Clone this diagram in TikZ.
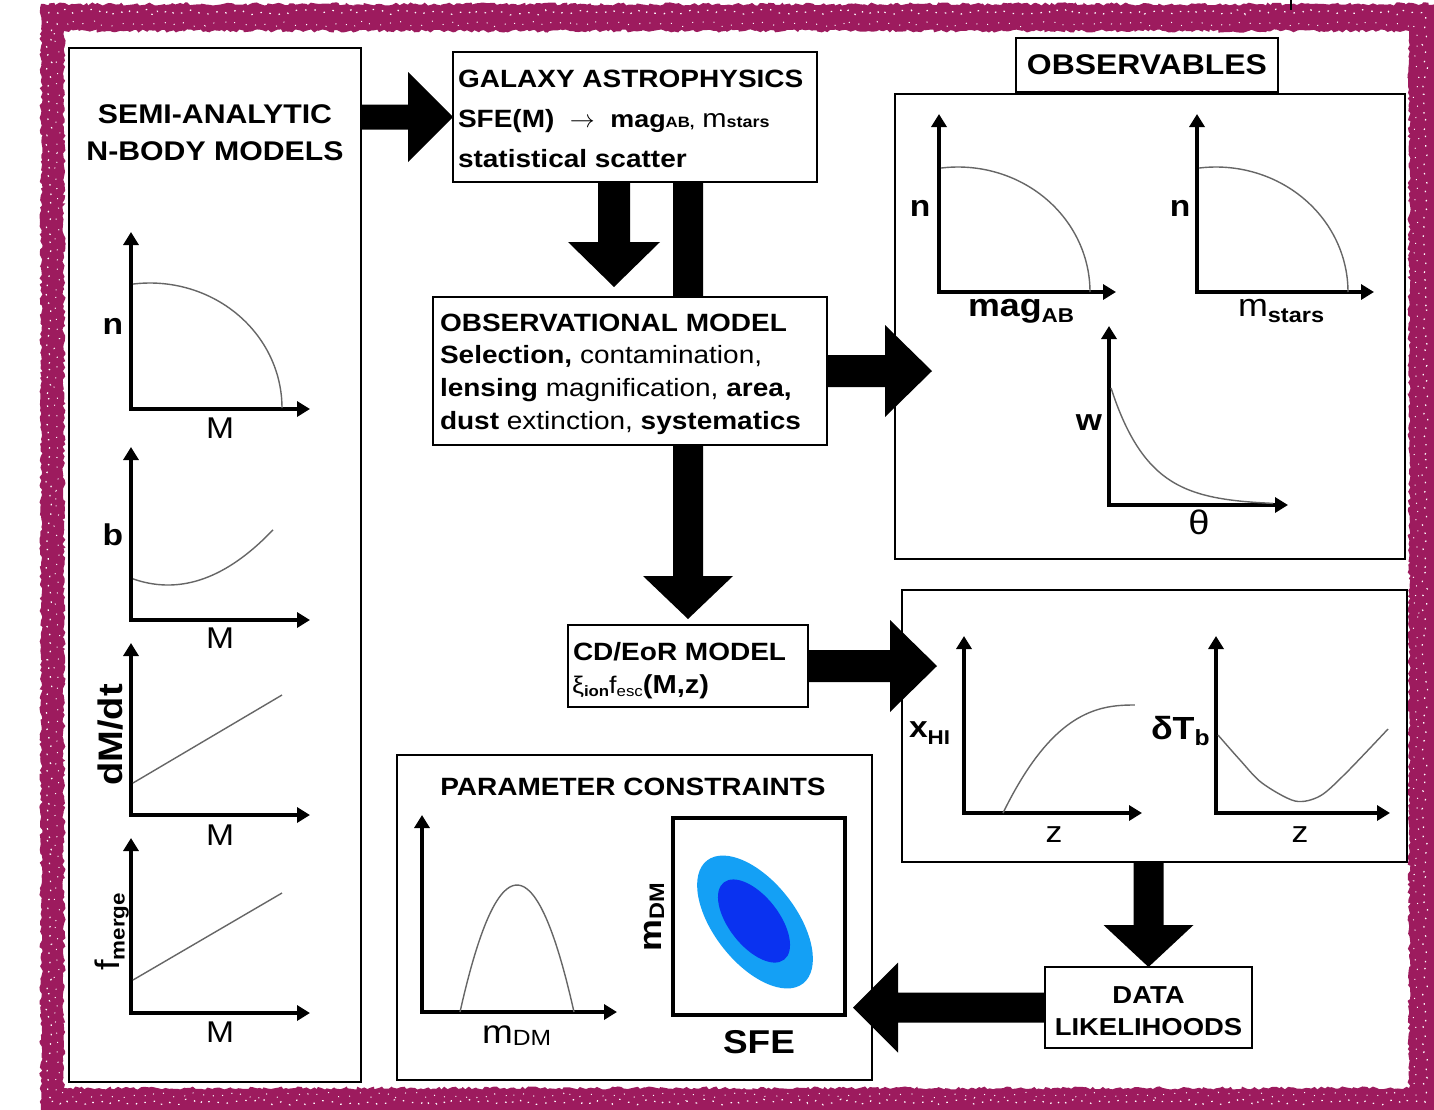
\documentclass[tikz,border=0pt]{standalone}
\usepackage{fontspec}
\setmainfont{Liberation Sans}[FakeStretch=1.12]
\usetikzlibrary{arrows.meta,calc,decorations.pathmorphing}
\pgfdeclarelayer{background}
\pgfsetlayers{background,main}
\definecolor{framepink}{RGB}{157,27,94}
\definecolor{ciouter}{RGB}{20,160,245}
\definecolor{ciinner}{RGB}{10,50,240}
\newcommand\fsz[1]{\fontsize{#1}{#1}\selectfont}
% block arrows: start, tip, shaft half width, head half width, head length
\newcommand\arrR[5]{\fill ($(#1)+(0,-#3)$) -- ($(#2)+(-#5,-#3)$) -- ($(#2)+(-#5,-#4)$) -- (#2) -- ($(#2)+(-#5,#4)$) -- ($(#2)+(-#5,#3)$) -- ($(#1)+(0,#3)$) -- cycle;}
\newcommand\arrL[5]{\fill ($(#1)+(0,-#3)$) -- ($(#2)+(#5,-#3)$) -- ($(#2)+(#5,-#4)$) -- (#2) -- ($(#2)+(#5,#4)$) -- ($(#2)+(#5,#3)$) -- ($(#1)+(0,#3)$) -- cycle;}
\newcommand\arrD[5]{\fill ($(#1)+(-#3,0)$) -- ($(#2)+(-#3,-#5)$) -- ($(#2)+(-#4,-#5)$) -- (#2) -- ($(#2)+(#4,-#5)$) -- ($(#2)+(#3,-#5)$) -- ($(#1)+(#3,0)$) -- cycle;}
\newcommand\ncurve[2]{\draw[crv] plot[smooth,domain=0:97.4,samples=40] ({#1+17+132*cos(\x)},{#2-125*sin(\x)});}
\begin{document}
\begin{tikzpicture}[x=1pt,y=-1pt,
  box/.style={draw, line width=2.8pt, fill=white, inner sep=0pt, outer sep=0pt},
  txt/.style={inner sep=0pt, outer sep=0pt},
  axes/.style={line width=4pt, line join=miter, >={Triangle[length=13pt,width=15pt]}, <->},
  crv/.style={line width=1.4pt, black!60},
  ]
\useasboundingbox (0,0) rectangle (1434,1109);
% ---------- frame ----------
\fill[framepink, even odd rule, decorate, decoration={random steps,segment length=3pt,amplitude=1.6pt}]
  (41,4) rectangle (1436,1112) (64,31) rectangle (1409,1088);
\draw[white, line width=1.2pt, dash pattern=on 1.5pt off 8pt, decorate, decoration={random steps,segment length=5pt,amplitude=3pt}]
  (49,12) rectangle (1425,1102);
\draw[white, line width=1pt, dash pattern=on 1pt off 11pt, decorate, decoration={random steps,segment length=4pt,amplitude=3pt}]
  (57,24) rectangle (1416,1095);
\draw[line width=1.5pt] (1291,0) -- (1291,10);

% ---------- left panel ----------
\node[box, minimum width=292pt, minimum height=1034pt, anchor=north west] (semi) at (69,48) {};
\node[txt, anchor=base, font=\fsz{27}\bfseries] (semit1) at (215,123) {SEMI-ANALYTIC};
\node[txt, anchor=base, font=\fsz{27}\bfseries] (semit2) at (215,160) {N-BODY MODELS};

\draw[axes] (131,232) -- (131,409) -- (310,409);
\ncurve{133}{408}
\node[txt, font=\fsz{30}\bfseries] (p1y) at (113,326) {n};
\node[txt, font=\fsz{30}] (p1x) at (220,428) {M};

\draw[axes] (131,447) -- (131,620) -- (310,620);
\draw[crv] plot[smooth,domain=133:273,samples=30] (\x,{585-0.005*(\x-168)^2});
\node[txt, font=\fsz{30}\bfseries] (p2y) at (113,535) {b};
\node[txt, font=\fsz{30}] (p2x) at (220,638) {M};

\draw[axes] (131,643) -- (131,815) -- (310,815);
\draw[crv] (133,783) -- (282,695);
\node[txt, font=\fsz{34}\bfseries, rotate=90] (p3y) at (111,735) {dM/dt};
\node[txt, font=\fsz{30}] (p3x) at (220,835) {M};

\draw[axes] (131,838) -- (131,1013) -- (310,1013);
\draw[crv] (133,980) -- (282,893);
\node[txt, font=\fsz{34}, rotate=90] (p4y) at (112,932) {f\raisebox{-5pt}{\fsz{20}\bfseries merge}};
\node[txt, font=\fsz{30}] (p4x) at (220,1032) {M};

% ---------- galaxy astrophysics ----------
\node[box, minimum width=364pt, minimum height=130pt, anchor=north west] (galaxy) at (453,52) {};
\node[txt, anchor=base west, font=\fsz{25}\bfseries] (g1) at (458,87) {GALAXY ASTROPHYSICS};
\node[txt, anchor=base west, font=\fsz{25}\bfseries] (g2) at (458,127)
  {SFE(M)\ \ {\fsz{24}$\rightarrow$}\ \ {\fsz{24}mag}{\fsz{15}AB,} {\mdseries\fsz{26}m}{\fsz{16}stars}};
\node[txt, anchor=base west, font=\fsz{25}\bfseries] (g3) at (458,167) {statistical scatter};

% arrow galaxy -> CD/EoR (behind observational model)
\coordinate (a3s) at (galaxy.south -| 688,0);
\coordinate (a3t) at (688,619);

% ---------- observational model ----------
\node[box, minimum width=394pt, minimum height=148pt, anchor=north west] (obs) at (433,297) {};
\node[txt, anchor=base west, font=\fsz{25}\bfseries] (o1) at (440,331) {OBSERVATIONAL MODEL};
\node[txt, anchor=base west, font=\fsz{25}] (o2) at (440,363) {\textbf{Selection,} contamination,};
\node[txt, anchor=base west, font=\fsz{25}] (o3) at (440,396) {\textbf{lensing} magnification, \textbf{area,}};
\node[txt, anchor=base west, font=\fsz{25}] (o4) at (440,429) {\textbf{dust} extinction, \textbf{systematics}};

% ---------- observables ----------
\node[box, minimum width=510pt, minimum height=465pt, anchor=north west] (obsbox) at (895,94) {};
\node[box, minimum width=262pt, minimum height=54pt, font=\fsz{28.5}\bfseries] (obslabel) at (1147,65) {OBSERVABLES};

\draw[axes] (939,114) -- (939,292) -- (1116,292);
\ncurve{941}{292}
\node[txt, font=\fsz{30}\bfseries] (oay) at (920,208) {n};
\node[txt, anchor=base west, font=\fsz{32}\bfseries] (oax) at (968,316) {mag\raisebox{-6pt}{\fsz{20}AB}};

\draw[axes] (1197,114) -- (1197,292) -- (1374,292);
\ncurve{1199}{292}
\node[txt, font=\fsz{30}\bfseries] (oby) at (1180,208) {n};
\node[txt, anchor=base west, font=\fsz{32}] (obx) at (1238,316) {m\raisebox{-6pt}{\fsz{21}\bfseries stars}};

\draw[axes] (1109,326) -- (1109,505) -- (1288,505);
\draw[crv] plot[smooth,domain=1111:1273,samples=40] (\x,{505-117*exp(-(\x-1111)/38)});
\node[txt, font=\fsz{30}\bfseries] (ocy) at (1089,423) {w};
\node[txt, font=\fsz{34}] (ocx) at (1199,522) {θ};

% ---------- CD/EoR model ----------
\node[box, minimum width=240pt, minimum height=82pt, anchor=north west] (cd) at (568,625) {};
\node[txt, anchor=base west, font=\fsz{25}\bfseries] (c1) at (573,660) {CD/EoR MODEL};
\node[txt, anchor=base west, font=\fsz{24}] (c2) at (572,693)
  {ξ\raisebox{-3pt}{\fsz{15}\bfseries ion}f\raisebox{-3pt}{\fsz{15}esc}{\fsz{26}\bfseries(M,z)}};

% ---------- reionization observables ----------
\node[box, minimum width=505pt, minimum height=272pt, anchor=north west] (reion) at (902,590) {};
\draw[axes] (964,636) -- (964,813) -- (1142,813);
\draw[crv] plot[smooth,domain=0:1,samples=40] ({1003+132*\x},{813-108*(1-(1-\x)*(1-\x)*sqrt(abs(1-\x)))});
\node[txt, anchor=base west, font=\fsz{30}\bfseries] (rdy) at (909,737) {x\raisebox{-7pt}{\fsz{20}HI}};
\node[txt, font=\fsz{30}] (rdx) at (1054,835) {z};

\draw[axes] (1216,636) -- (1216,813) -- (1390,813);
\draw[crv] plot[smooth] coordinates {(1218,735) (1240,760) (1262,783) (1295,801) (1320,796) (1346,773) (1388,729)};
\node[txt, anchor=base west, font=\fsz{32}\bfseries] (rey) at (1151,739) {δT\raisebox{-6pt}{\fsz{22}b}};
\node[txt, font=\fsz{30}] (rex) at (1300,835) {z};

% ---------- data likelihoods ----------
\node[box, minimum width=207pt, minimum height=81pt, anchor=north west] (data) at (1045,967) {};
\node[txt, anchor=base, font=\fsz{24.5}\bfseries] (d1) at (1148.5,1003) {DATA};
\node[txt, anchor=base, font=\fsz{24.5}\bfseries] (d2) at (1148.5,1035) {LIKELIHOODS};

% ---------- parameter constraints ----------
\node[box, minimum width=475pt, minimum height=325pt, anchor=north west] (param) at (397,755) {};
\node[txt, anchor=base, font=\fsz{25}\bfseries] (paramt) at (633,795) {PARAMETER CONSTRAINTS};
\draw[axes] (422,815) -- (422,1012) -- (617,1012);
\draw[crv] plot[smooth,domain=460:574,samples=40] (\x,{1012-127*(1-((\x-517)/57)^2)});
\node[txt, anchor=base west, font=\fsz{33}] (pfx) at (482,1043) {m\raisebox{-2pt}{\fsz{22}DM}};

\node[box, line width=4pt, minimum width=172pt, minimum height=197pt, anchor=north west] (cbox) at (673,818) {};
\fill[ciouter, rotate around={-52:(755,922)}] (755,922) ellipse [x radius=78pt, y radius=41pt];
\fill[ciinner, rotate around={-52:(754,921)}] (754,921) ellipse [x radius=49pt, y radius=25pt];
\node[txt, rotate=90, font=\fsz{32}\bfseries] (cby) at (654,917) {m\raisebox{-3pt}{\fsz{21}DM}};
\node[txt, font=\fsz{33}\bfseries] (cbx) at (759,1042) {SFE};

% ---------- block arrows ----------
\coordinate (a1s) at (semi.east |- galaxy.west);
\arrR{a1s}{galaxy.west}{12.5}{45}{45}

\coordinate (a2s) at ($(galaxy.south)+(-21,0)$);
\coordinate (a2t) at ($(obs.north)+(-16,-10)$);
\arrD{a2s}{a2t}{16}{46}{45}

\begin{pgfonlayer}{background}
\arrD{a3s}{a3t}{15}{45}{43}
\end{pgfonlayer}

\coordinate (a4t) at ($(obs.east -| obsbox.west)+(37,0)$);
\arrR{obs.east}{a4t}{16}{46}{47}

\coordinate (a5t) at ($(cd.east -| reion.west)+(35,0)$);
\arrR{cd.east}{a5t}{16}{46}{47}

\coordinate (a6s) at (reion.south -| data.north);
\arrD{a6s}{data.north}{15}{45}{42}

\coordinate (a7t) at ($(data.west -| param.east)+(-19,0)$);
\arrL{data.west}{a7t}{15}{45}{45}
\end{tikzpicture}
\end{document}
